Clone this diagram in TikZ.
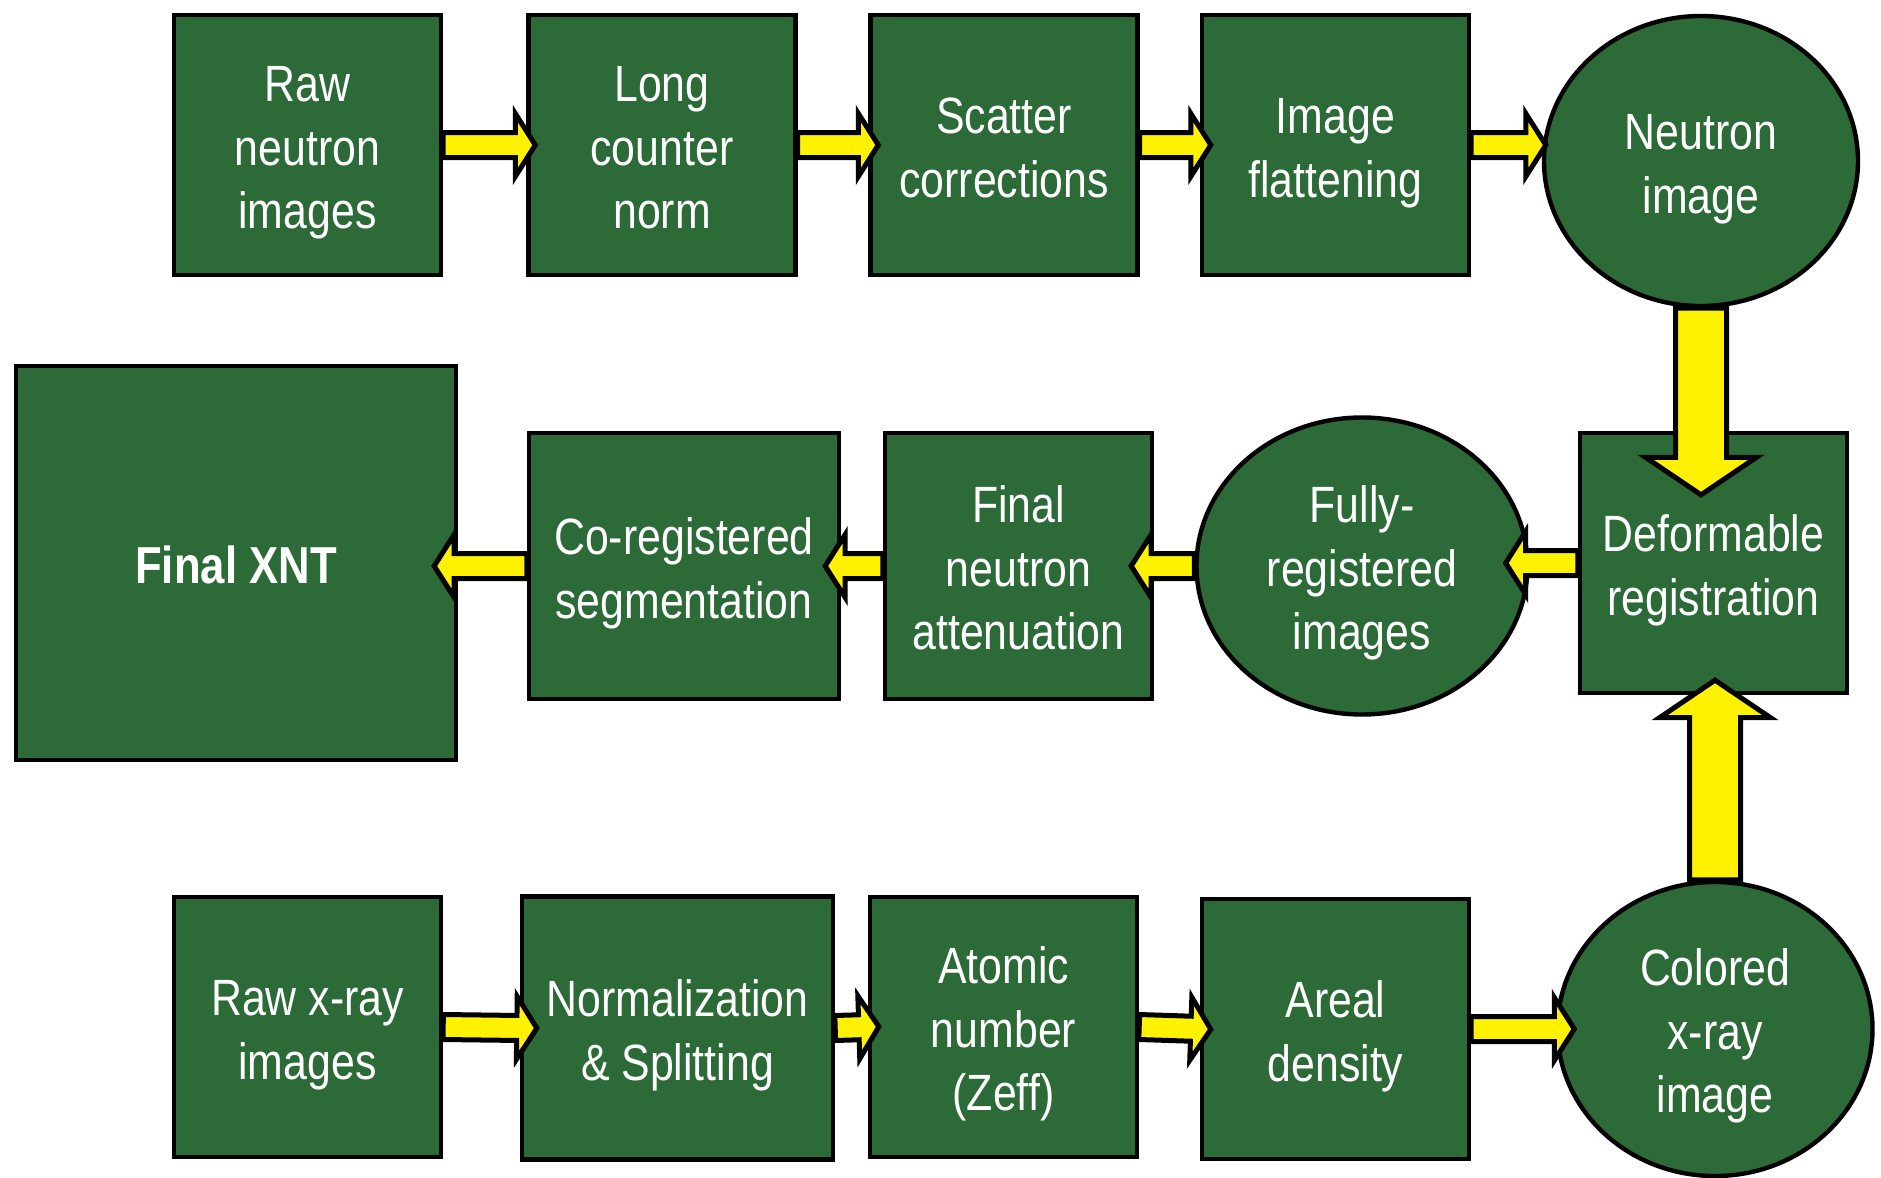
\documentclass[tikz,border=0pt]{standalone}
\usepackage{fontspec}
\setmainfont{Liberation Sans}[FakeStretch=0.84]
\usepackage{tikz}
\usetikzlibrary{calc,shapes.geometric}

\definecolor{xntgreen}{RGB}{44,106,55}
\newcommand{\stgtop}{\rule{0pt}{26.3pt}}
\newcommand{\stgbot}{\rule[-6pt]{0pt}{6pt}}

\tikzset{
  arrpoke/.store in=\arrpoke, arrshaft/.store in=\arrshaft,
  arrhead/.store in=\arrhead, arrlen/.store in=\arrlen,
  flow/.style={draw=black, fill=yellow, line width=2.5pt, line join=miter,
    arrpoke=#1, arrshaft=6.25pt, arrhead=15.75pt, arrlen=10pt,
    to path={let \p1=(\tikztostart),
      \p2=($(\tikztotarget)!-\arrpoke!(\tikztostart)$),
      \p3=($(\p2)!\arrlen!(\p1)$) in
      -- ($(\p1)!\arrshaft!90:(\p2)$) -- ($(\p3)!\arrshaft!90:(\p2)$)
      -- ($(\p3)!\arrhead!90:(\p2)$) -- (\p2)
      -- ($(\p3)!\arrhead!-90:(\p2)$) -- ($(\p3)!\arrshaft!-90:(\p2)$)
      -- ($(\p1)!\arrshaft!-90:(\p2)$) -- cycle}},
  flow/.default=5pt,
  bigflow/.style={flow=#1, arrshaft=12.75pt, arrhead=27.75pt, arrlen=18.75pt},
}

\begin{document}
\begin{tikzpicture}[x=0.5pt, y=-0.5pt,
    stage/.style={draw=black, line width=2.2pt, fill=xntgreen, text=white,
      align=center, inner sep=0pt, font=\fontsize{25.5}{31.8}\selectfont},
    procbox/.style={stage, rectangle, minimum width=133.5pt, minimum height=130pt},
    blob/.style={stage, ellipse, minimum width=157pt, minimum height=145pt}]
\useasboundingbox (0,0) rectangle (1881,1178);

% neutron row
\node[procbox] (rawn) at (307.5,145) {\stgtop Raw\\neutron\\images\stgbot};
\node[procbox] (lcn) at (662,145) {\stgtop Long\\counter\\norm\stgbot};
\node[procbox] (scat) at (1004,145) {\stgtop Scatter\\corrections\stgbot};
\node[procbox] (flat) at (1335.5,145) {\stgtop Image\\flattening\stgbot};
\node[blob] (nimg) at (1701,161) {\stgtop Neutron\\image\stgbot};

% registration row
\node[procbox, minimum width=220pt, minimum height=197pt, font=\fontsize{26}{31.8}\selectfont\bfseries] (xnt) at (236,563) {\stgtop Final XNT\stgbot};
\node[procbox, minimum width=155pt, minimum height=133pt] (coseg) at (684,566) {\stgtop Co-registered\\segmentation\stgbot};
\node[procbox, minimum height=133pt] (fna) at (1018.5,566) {\stgtop Final\\neutron\\attenuation\stgbot};
\node[blob, minimum width=165.5pt, minimum height=148.5pt] (freg) at (1362,566) {\stgtop Fully-\\registered\\images\stgbot};
\node[procbox] (defreg) at (1713.5,563) {\stgtop Deformable\\registration\stgbot};

% x-ray row
\node[procbox] (rawx) at (307.5,1027) {\stgtop Raw x-ray\\images\stgbot};
\node[procbox, minimum width=155.5pt, minimum height=131.5pt] (norm) at (677.5,1028) {\stgtop Normalization\\\& Splitting\stgbot};
\node[procbox] (zeff) at (1003.5,1027) {\stgtop Atomic\\number\\(Zeff)\stgbot};
\node[procbox] (areal) at (1335.5,1029) {\stgtop Areal\\density\stgbot};
\node[blob, minimum width=157.5pt, minimum height=147pt] (colx) at (1715,1029) {\stgtop Colored\\x-ray\\image\stgbot};

\draw[flow=4.5pt] (rawn.east) to (lcn.west);
\draw[flow=5pt] (lcn.east) to (scat.west);
\draw[flow=5.5pt] (scat.east) to (flat.west);
\draw[flow=2pt] (flat.east) to (flat.east -| nimg.west);
\draw[bigflow=32pt] (nimg.south) to (nimg.south |- defreg.north);
\draw[flow=12pt] (defreg.west) to (defreg.west -| freg.east);
\draw[flow=11.5pt] (freg.west) to (fna.east);
\draw[flow=8pt] (fna.west) to (coseg.east);
\draw[flow=12pt] (coseg.west) to (coseg.west -| xnt.east);
\draw[flow=8.5pt] (rawx.east) to (norm.west);
\draw[flow=5.5pt] (norm.east) to (zeff.west);
\draw[flow=5.5pt] (zeff.east) to (areal.west);
\draw[flow=9.5pt] (areal.east) to (areal.east -| colx.west);
\draw[bigflow=7.5pt] (colx.north) to (colx.north |- defreg.south);
\end{tikzpicture}
\end{document}
